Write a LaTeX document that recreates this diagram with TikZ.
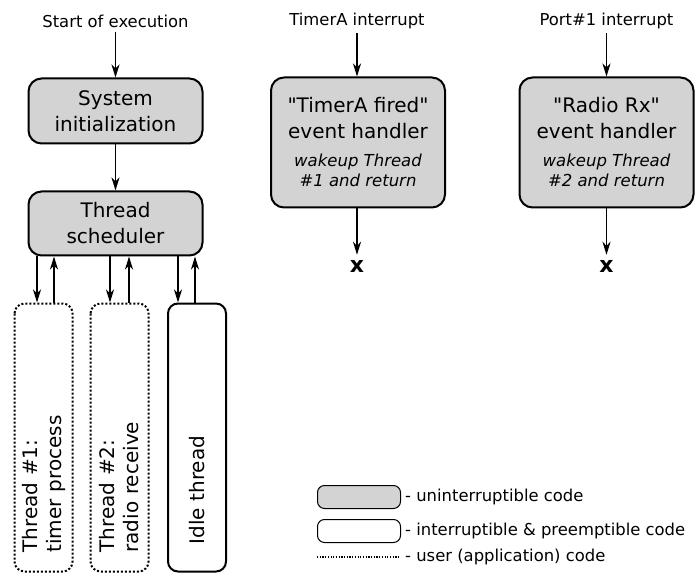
\documentclass[tikz,border=0pt]{standalone}
\usepackage{fontspec}
\setmainfont{DejaVu Sans}[Ligatures=TeXOff]
\usetikzlibrary{arrows.meta}
\definecolor{codegray}{RGB}{211,211,211}
\newcommand{\wake}{\fontsize{16.5}{21}\selectfont\itshape}
\begin{document}
\begin{tikzpicture}[x=1pt,y=-1pt,
  lbl/.style={font=\fontsize{16.4}{20}\selectfont, inner sep=4pt},
  atomic/.style={draw, line width=2pt, fill=codegray, rounded corners=13pt,
    align=center, font=\fontsize{20}{26}\selectfont, inner sep=0pt,
    minimum width=174pt},
  thr/.style={draw, line width=2pt, rounded corners=10pt, rotate=90,
    minimum width=268pt, minimum height=58pt, align=left,
    font=\fontsize{20}{24}\selectfont, inner sep=0pt},
  user/.style={dash pattern=on 2pt off 2pt},
  arr/.style={line width=1.6pt, -{Stealth[length=13pt,width=8pt,inset=4pt]}},
  xmark/.style={font=\fontsize{22}{22}\selectfont\bfseries, inner sep=5pt},
  legbox/.style={draw, line width=1pt, rounded corners=7pt,
    minimum width=83pt, minimum height=23pt, inner sep=0pt},
  legtxt/.style={font=\fontsize{16.4}{20}\selectfont, inner sep=0pt, anchor=west}
]
\useasboundingbox (0,0) rectangle (697,575);

% --- main program flow ---
\node[lbl] (start) at (115.5,21) {Start of execution};
\node[atomic, minimum height=65pt] (init) at (115.5,111) {System\\initialization};
\node[atomic, minimum height=64pt] (sched) at (115.5,223.5) {Thread\\scheduler};
\draw[arr] (start) -- (init);
\draw[arr] (init) -- (sched);

% --- threads ---
\node[thr, user, text width=230pt] (t1) at (43.5,437.5) {Thread \#1:\\timer process};
\node[thr, user, text width=230pt] (t2) at (119.5,437.5) {Thread \#2:\\radio receive};
\node[thr, text width=214pt] (idle) at (197,437.5) {Idle thread};

\draw[arr] ([xshift=-6.5pt]t1.east |- sched.south) -- ([xshift=-6.5pt]t1.east);
\draw[arr] ([xshift=10.5pt]t1.east) -- ([xshift=10.5pt]t1.east |- sched.south);
\draw[arr] ([xshift=-9.5pt]t2.east |- sched.south) -- ([xshift=-9.5pt]t2.east);
\draw[arr] ([xshift=9.5pt]t2.east) -- ([xshift=9.5pt]t2.east |- sched.south);
\draw[arr] ([xshift=-19pt]idle.east |- sched.south) -- ([xshift=-19pt]idle.east);
\draw[arr] ([xshift=-2pt]idle.east) -- ([xshift=-2pt]idle.east |- sched.south);

% --- interrupt handlers ---
\node[lbl] (tirq) at (357,21) {TimerA interrupt};
\node[atomic, minimum height=130pt] (thandler) at (358,142.5)
  {"TimerA fired"\\event handler\\[2pt]
   \wake wakeup Thread\\[-6pt]\wake \#1 and return};
\node[xmark] (x1) at (357,266) {x};
\draw[arr] (tirq) -- (tirq |- thandler.north);
\draw[arr] (x1 |- thandler.south) -- (x1);

\node[lbl] (pirq) at (606.5,21) {Port\#1 interrupt};
\node[atomic, minimum height=130pt] (rhandler) at (606.5,142.5)
  {"Radio Rx"\\event handler\\[2pt]
   \wake wakeup Thread\\[-6pt]\wake \#2 and return};
\node[xmark] (x2) at (606.5,266) {x};
\draw[arr] (pirq) -- (rhandler);
\draw[arr] (rhandler) -- (x2);

% --- legend ---
\node[legbox, fill=codegray] (lg1) at (359,497) {};
\node[legtxt] (lg1t) at (405,497) {- uninterruptible code};
\node[legbox, fill=white] (lg2) at (359,531) {};
\node[legtxt] (lg2t) at (405,531) {- interruptible \& preemptible code};
\coordinate (ld1) at (317,557);
\coordinate (ld2) at (400,557);
\draw[line width=1.2pt, dash pattern=on 1.2pt off 1.5pt] (ld1) -- (ld2);
\node[legtxt] (lg3t) at (405,557) {- user (application) code};
\end{tikzpicture}
\end{document}
